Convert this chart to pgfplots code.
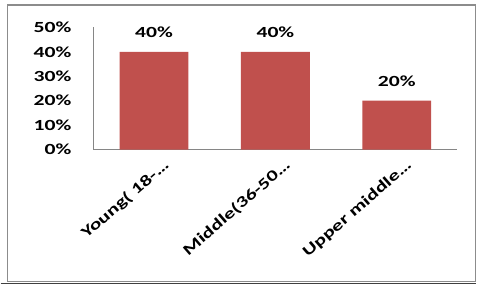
\documentclass[border=0pt]{standalone}
\usepackage{fontspec}
\setmainfont{Carlito}[FakeStretch=1.4]
\usepackage{pgfplots}
\pgfplotsset{compat=1.18}
\definecolor{barred}{RGB}{192,80,77}
\definecolor{axgray}{RGB}{134,134,134}
\definecolor{framegray}{RGB}{140,140,140}
\newcommand{\lblfont}{\fontsize{15.5bp}{17bp}\selectfont\bfseries}
\begin{document}
\begin{tikzpicture}
\path (-93bp,-135bp) rectangle (384bp,150bp);
\begin{axis}[
  at={(0,0)}, anchor=south west,
  width=365bp, height=122.5bp, scale only axis,
  /pgf/number format/assume math mode=true,
  xmin=-0.5, xmax=2.5, ymin=0, ymax=50,
  axis lines*=left,
  axis line style={axgray, line width=0.8bp},
  major tick length=0pt,
  xtick={0,1,2},
  xticklabels={Young(~18-…, Middle(36-50…, Upper middle…},
  ytick={0,10,20,30,40,50},
  yticklabel={\pgfmathprintnumber{\tick}\%},
  yticklabel style={xshift=-22bp, anchor=east, inner sep=0pt, font=\lblfont},
  xticklabel style={xshift=16bp, yshift=-17bp, rotate=41, anchor=base east, inner sep=0pt, font=\lblfont},
  ybar, bar width=69bp,
  nodes near coords={\pgfmathprintnumber{\pgfplotspointmeta}\%},
  nodes near coords style={yshift=14bp, anchor=base, inner sep=0pt, font=\lblfont},
]
\addplot[fill=barred, draw=none] coordinates {(0,40) (1,40) (2,20)};
\end{axis}
\draw[framegray, line width=1.2bp] (-86bp,-132.5bp) rectangle (383bp,145bp);
\draw[black!75, line width=1.4bp] (-93bp,-134.2bp) -- (384bp,-134.2bp);
\end{tikzpicture}
\end{document}
